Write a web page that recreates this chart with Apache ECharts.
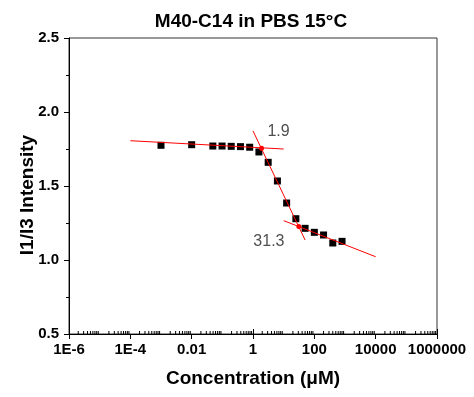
<!DOCTYPE html>
<html>
<head>
<meta charset="utf-8">
<script src="https://cdn.jsdelivr.net/npm/echarts@6/dist/echarts.min.js"></script>
<style>html,body{margin:0;padding:0;background:#fff}#c{width:474px;height:397px}</style>
</head>
<body>
<div id="c"></div>
<script>
// Measured data (concentration in µM, I1/I3 ratio)
var conc  = [0.001, 0.01, 0.049, 0.098, 0.195, 0.39, 0.78, 1.56, 3.125, 6.25, 12.5, 25, 50, 100, 200, 400, 800];
var ratio = [1.775, 1.779, 1.770, 1.770, 1.768, 1.766, 1.762, 1.730, 1.660, 1.534, 1.385, 1.279, 1.214, 1.187, 1.169, 1.115, 1.126];

// Linear fit segments (in log-x space)
var fitLowX  = [1e-4, 10];   var fitLowY  = [1.806, 1.750];
var fitMidX  = [1, 50];      var fitMidY  = [1.872, 1.135];
var fitHighX = [10, 10000];  var fitHighY = [1.266, 1.022];

// Intersection points (CMC values)
var cmcX = [1.9, 31.3];
var cmcY = [1.755, 1.226];
var cmcText = ['1.9', '31.3'];
var cmcLabelX = [6.8, 3.3];
var cmcLabelY = [1.865, 1.122];

// Axis settings
var xMin = 1e-6, xMax = 1e6;
var yMin = 0.5, yMax = 2.5, yStep = 0.5;

function pairs(xs, ys) { return xs.map(function (x, i) { return [x, ys[i]]; }); }

// Minor log ticks (2..9 per decade) – axis decoration
var minorTicks = [];
for (var e = -6; e < 6; e++) {
  for (var m = 2; m <= 9; m++) minorTicks.push([m * Math.pow(10, e), yMin]);
}

function fmtX(v) {
  var e = Math.round(Math.log10(v));
  if (e < -2) return '1E' + e;
  return String(Math.pow(10, e));
}

var font = 'Liberation Sans, Arial, Helvetica, sans-serif';
var chart = echarts.init(document.getElementById('c'), null, {renderer: 'canvas'});
chart.setOption({
  animation: false,
  title: {
    text: 'M40-C14 in PBS 15°C',
    left: 246, top: 7, textAlign: 'center',
    textStyle: {fontFamily: font, fontWeight: 'bold', fontSize: 19, color: '#000'}
  },
  grid: {left: 69, right: 37, top: 38, bottom: 63, show: true, borderColor: '#333', borderWidth: 1},
  xAxis: [{
    type: 'log', logBase: 100, min: xMin, max: xMax, splitNumber: 6,
    name: 'Concentration (μM)', nameLocation: 'middle', nameGap: 35, nameMoveOverlap: false,
    nameTextStyle: {fontFamily: font, fontWeight: 'bold', fontSize: 19, color: '#000'},
    axisLine: {show: true, lineStyle: {color: '#000', width: 1}},
    axisTick: {show: true, inside: false, length: 5, lineStyle: {color: '#000'}},
    minorTick: {show: false},
    splitLine: {show: false},
    axisLabel: {formatter: fmtX, margin: 8, fontFamily: font, fontWeight: 'bold', fontSize: 15, color: '#000', showMinLabel: true, showMaxLabel: true}
  }, {
    type: 'log', logBase: 10, min: xMin, max: xMax, splitNumber: 12, position: 'bottom',
    axisLine: {show: false},
    axisTick: {show: true, inside: true, length: 5, lineStyle: {color: '#000'}},
    axisLabel: {show: false},
    splitLine: {show: false}
  }],
  yAxis: {
    type: 'value', min: yMin, max: yMax, interval: yStep,
    name: 'I1/I3 Intensity', nameLocation: 'middle', nameGap: 32, nameMoveOverlap: false,
    nameTextStyle: {fontFamily: font, fontWeight: 'bold', fontSize: 19, color: '#000', padding: [0, 18, 0, 0]},
    axisLine: {show: true, lineStyle: {color: '#000', width: 1}},
    axisTick: {show: true, inside: false, length: 5, lineStyle: {color: '#000'}},
    minorTick: {show: true, splitNumber: 2, length: 3, lineStyle: {color: '#000'}},
    splitLine: {show: false},
    axisLabel: {formatter: function (v) { return v.toFixed(1); }, margin: 10, fontFamily: font, fontWeight: 'bold', fontSize: 15, color: '#000'}
  },
  series: [{
    type: 'custom', xAxisIndex: 0, silent: true, z: 1,
    data: minorTicks,
    renderItem: function (params, api) {
      var p = api.coord([api.value(0), api.value(1)]);
      return {type: 'line', shape: {x1: p[0], y1: p[1], x2: p[0], y2: p[1] - 3}, style: {stroke: '#000', lineWidth: 1}};
    }
  }, {
    type: 'scatter', z: 2, symbol: 'rect', symbolSize: 7,
    itemStyle: {color: '#000', opacity: 1},
    data: pairs(conc, ratio)
  }, {
    type: 'line', z: 3, symbol: 'none', lineStyle: {color: '#ff0000', width: 1}, data: pairs(fitLowX, fitLowY)
  }, {
    type: 'line', z: 3, symbol: 'none', lineStyle: {color: '#ff0000', width: 1}, data: pairs(fitMidX, fitMidY)
  }, {
    type: 'line', z: 3, symbol: 'none', lineStyle: {color: '#ff0000', width: 1}, data: pairs(fitHighX, fitHighY)
  }, {
    type: 'scatter', z: 4, symbol: 'circle', symbolSize: 5,
    itemStyle: {color: '#ff0000', opacity: 1},
    data: pairs(cmcX, cmcY)
  }, {
    type: 'scatter', z: 5, symbolSize: 0,
    label: {show: true, position: 'inside', formatter: function (p) { return cmcText[p.dataIndex]; },
      fontFamily: font, fontSize: 16, color: '#222'},
    data: pairs(cmcLabelX, cmcLabelY)
  }]
});
</script>
</body>
</html>
